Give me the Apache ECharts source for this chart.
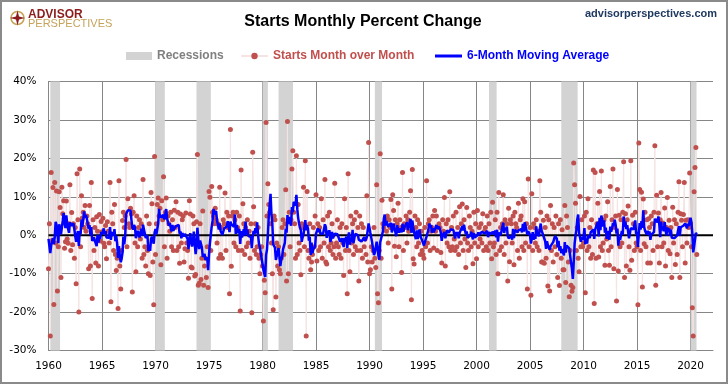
<!DOCTYPE html>
<html><head><meta charset="utf-8">
<script src="https://cdn.jsdelivr.net/npm/echarts@6/dist/echarts.min.js"></script>
<style>html,body{margin:0;padding:0;background:#fff}#c{width:728px;height:384px}</style>
</head><body><div id="c"></div>
<script>
// Monthly % change of housing starts (Jan 1960 .. Aug 2020)
const firstYear = 1960;
// Aug-Dec 1959, only used to start the 6-month average
const seed1959 = [2.0, -3.0, 4.0, -1.0, 1.0];
const starts1960s = [
  -8.7, 3.0, -26.2, 16.3, -1.4, 12.4, -18.0, 13.7, -2.0, 11.5, -14.5, -3.0,
  11.3, 7.2, -11.0, 12.5, 5.6, 9.0, -3.4, -1.7, 8.9, -1.0, -2.1, 3.0,
  13.1, -4.0, 5.9, -2.5, 3.0, -6.0, 2.0, -12.6, 16.0, 4.0, -20.0, 17.2,
  -3.0, 10.3, 4.5, 6.0, 2.0, 7.7, 1.0, 5.0, 3.0, -8.7, 7.7, -8.0,
  13.7, -16.5, 4.0, -4.0, 2.0, -7.2, 4.8, 1.0, -8.0, 5.4, -1.5, 3.6,
  0.9, 4.4, -2.1, -3.0, 2.5, -6.1, 3.5, 1.0, -2.0, 13.7, -17.3, 6.0,
  3.0, -4.0, 8.0, -5.0, -9.2, -6.0, -19.1, 14.2, -8.0, -14.0, -4.0, 3.8,
  6.0, 2.0, 5.0, 19.7, -3.0, 9.5, 3.0, 2.0, 7.0, 5.5, -14.8, 6.0,
  10.3, -2.0, -9.5, 5.0, -3.0, 2.0, 4.0, -1.0, 3.0, -6.0, 14.5, -5.0,
  -3.0, -8.0, 5.0, -4.0, -10.0, 3.0, -10.5, 11.1, 8.2, -7.0, -18.1, 20.5
];
const starts1970s = [
  -5.0, 3.0, 8.0, 9.7, 5.0, 7.0, -7.7, 9.0, 4.0, 15.2, -3.0, 6.0,
  9.7, -6.0, 5.0, 3.0, 1.0, 6.0, -3.0, 4.0, -4.0, 6.5, 2.0, 8.7,
  -4.0, 6.0, -3.0, -7.3, 5.5, -2.0, 4.0, 5.0, -7.0, -3.5, 5.8, -2.0,
  -4.0, -11.2, 9.0, 5.5, -8.3, -8.5, 5.0, 3.0, -10.6, -10.2, 3.5, 21.0,
  -13.0, -12.5, 3.0, -11.5, -6.0, 6.3, -13.0, -8.0, -6.0, -11.0, -3.0, -13.6,
  11.4, 9.9, -4.0, 12.7, 6.0, 5.0, 3.0, 7.0, 4.0, -2.0, 3.0, -6.0,
  12.5, -5.0, 2.0, -6.0, 4.0, 3.0, 11.0, -4.0, 6.0, 2.0, 5.0, -15.2,
  27.5, -8.1, 5.0, 6.0, -2.0, 4.0, -3.0, 6.0, 2.0, -4.0, 5.0, -19.7,
  17.0, -4.0, 8.2, 3.0, -5.0, 2.0, -3.0, 4.0, -2.0, 1.0, -6.0, 3.0,
  -20.2, 21.6, 7.4, -4.0, 3.0, -5.0, -3.0, 2.0, -6.0, -10.0, -5.0, -3.0
];
const starts1980s = [
  -8.0, -22.3, -11.7, -15.0, 29.3, 5.0, 13.4, 8.0, 6.0, 3.0, -2.0, -10.0,
  -19.4, 5.0, 4.0, -16.1, -2.0, -8.0, -3.0, -9.0, -10.0, -6.0, 2.0, 4.0,
  -5.0, 3.0, 11.8, -11.9, 29.6, -10.0, 6.0, -3.0, 4.0, 17.2, 22.0, 6.0,
  3.0, -6.0, 20.7, -5.0, 8.0, -2.0, -4.0, -10.3, 3.0, 2.0, 12.5, -3.0,
  19.4, -26.2, 11.4, -4.0, -6.0, 3.0, -9.0, -7.0, -5.0, 2.0, -3.0, 5.0,
  10.5, -6.7, 3.0, -4.0, 2.0, -3.0, 9.5, -6.0, 4.0, -2.0, 14.5, -7.0,
  -7.5, 5.0, -3.0, 6.0, -4.0, -2.0, 3.0, -5.0, -3.0, 13.5, -6.0, -2.0,
  4.0, -3.0, -5.0, 2.0, -6.0, 3.0, -2.0, -10.5, 9.5, -4.0, 2.0, -15.2,
  16.0, -4.0, -9.5, 5.0, -2.0, 3.0, -5.0, 4.0, -3.0, 6.0, -4.0, 2.0,
  -11.9, 5.0, -4.0, 3.0, -6.0, 2.0, -3.0, -1.0, -5.0, 10.3, -7.0, 24.1
];
const starts1990s = [
  -10.0, -9.0, -3.0, -7.0, -4.0, 2.0, -6.0, -8.4, 13.1, -15.2, -17.6, -4.0,
  21.2, -6.0, 9.1, 3.0, 2.0, 3.0, 4.0, 1.0, 5.0, -2.0, 4.0, 2.0,
  9.3, -14.0, 10.5, 6.4, -2.9, 4.0, -5.6, 3.0, 8.3, -3.0, 4.0, 2.0,
  -9.7, 16.3, -4.0, 3.0, 2.0, 5.0, -2.0, 4.0, 1.0, 6.0, 11.6, -16.8,
  17.1, -6.1, -7.5, 5.0, 2.0, -3.0, 4.0, -2.0, 3.0, -5.0, 1.0, -4.0,
  -5.0, -6.0, 2.0, -3.0, 14.2, -2.0, 3.0, 4.0, -4.0, 1.0, 2.0, 5.0,
  -3.3, 6.4, 1.0, 5.0, -4.0, 2.0, 3.0, 2.0, -4.5, -7.2, 4.0, 1.0,
  9.8, -8.0, 3.0, -2.0, 4.0, -3.0, 11.3, -4.0, 2.0, -3.0, 5.0, -1.0,
  -4.0, 6.0, -3.0, 2.0, -5.0, 7.4, -2.0, 3.0, 8.1, -4.0, 4.0, -1.0,
  -8.4, 7.2, -2.0, -4.0, 5.0, 2.0, -3.0, 1.0, -7.4, 6.0, -2.0, 3.0
];
const starts2000s = [
  -6.1, 6.4, -3.0, 2.0, -1.0, 3.0, -2.0, 5.6, -4.0, 1.0, 2.0, -3.0,
  5.0, -4.0, 3.0, -2.0, 6.0, -6.1, 8.6, -3.0, -2.0, 4.0, -5.0, 6.0,
  -10.0, 11.1, -4.0, 2.0, -3.0, 3.0, 10.5, -5.0, 4.0, -2.0, 3.0, -11.9,
  7.0, -6.9, 4.0, 3.0, -2.0, 5.0, -7.7, 6.0, 3.0, 2.0, -4.0, 8.3,
  -6.0, 4.0, 5.0, -3.0, 9.5, -4.0, 8.7, -2.0, 3.0, -14.0, 14.6, -3.0,
  2.0, -15.6, 10.8, -4.0, 3.0, 2.0, -2.0, 4.0, -3.0, 1.0, -4.0, 14.2,
  6.0, -7.0, -7.0, 3.9, -7.3, 2.0, -6.0, 5.0, -13.2, 4.0, -14.5, 7.7,
  -4.0, 3.0, -7.0, 2.0, -3.0, 5.0, -5.0, -11.0, 3.0, -13.1, 4.0, -6.0,
  1.4, -9.0, -9.0, 7.7, -12.3, 5.0, 2.0, -7.0, -16.0, -4.0, -13.0, -14.6,
  -13.6, 18.8, 13.1, 8.3, -4.0, 2.0, -6.0, -9.5, 10.1, -3.0, 4.0, -3.0
];
const starts2010s = [
  -2.0, 5.0, -15.0, 6.0, -4.0, 9.5, -3.0, 2.0, -6.0, 4.0, -5.0, 17.0,
  -17.8, 16.3, -6.0, 3.0, 8.3, -5.7, 11.4, -3.0, 16.7, -4.0, -2.0, 4.0,
  -7.8, 5.0, -1.0, 8.7, -4.0, -7.8, 12.7, -3.0, 4.0, 17.2, -8.7, 2.0,
  5.0, -17.1, 11.9, -9.3, 5.2, -3.0, 4.0, -2.0, 6.0, 19.1, -11.0, 5.6,
  -8.0, 4.0, 7.6, -3.0, -9.1, 19.4, -6.5, 5.2, 3.0, -4.0, 6.0, -2.0,
  -3.0, -18.1, 24.0, 11.9, -4.0, 11.2, -13.5, 9.4, -2.2, 6.0, -3.0, 4.0,
  -7.2, 4.3, 2.0, -7.2, 5.0, 3.0, -4.0, 6.0, 23.3, -13.0, 10.4, -3.0,
  5.8, -7.2, 4.0, 11.1, -3.0, 3.2, -2.0, 7.1, -8.0, 2.0, 9.8, -4.0,
  3.9, -4.8, 2.0, -11.0, 7.3, -2.0, 4.0, -7.6, 3.0, -5.0, 6.0, 13.9,
  -11.0, 5.6, 3.9, -3.0, 5.4, 13.7, -7.2, 3.9, -2.0, 4.0, 2.0, 16.2
];
const starts2020s = [3.0, -3.0, -18.9, -26.2, 11.3, 17.6, 22.8, -5.0];

// NBER recessions (decimal years as drawn)
const recStart = [1960.17, 1969.96, 1973.83, 1980.0, 1981.5, 1990.5, 2001.17, 2007.92, 2020.0];
const recEnd   = [1961.08, 1970.87, 1975.17, 1980.5, 1982.85, 1991.17, 2001.88, 2009.45, 2020.56];

const xTickLabels = [1960,1965,1970,1975,1980,1985,1990,1995,2000,2005,2010,2015,2020];
const yMin = -30, yMax = 40, yStep = 10;
const xMin = 1960, xMax = 2022.1, xStep = 5;

const values = [].concat(starts1960s, starts1970s, starts1980s, starts1990s, starts2000s, starts2010s, starts2020s);
const xOf = i => firstYear + i / 12;
const startsData = values.map((v, i) => [xOf(i), v]);
const full = seed1959.concat(values);
const maData = values.map((v, i) => {
  let s = 0; for (let k = 0; k < 6; k++) s += full[i + k];
  return [xOf(i), +(s / 6).toFixed(2)];
});

const AX = "'DejaVu Sans', sans-serif";
const LS = "'Liberation Sans', Arial, sans-serif";
const chart = echarts.init(document.getElementById('c'), null, {renderer: 'canvas'});
const legendBase = {top: 50, padding: 0, itemHeight: 8, selectedMode: false,
  textStyle: {fontWeight: 'bold', fontSize: 12, fontFamily: LS}};
chart.setOption({
  animation: false,
  backgroundColor: '#fff',
  grid: {left: 48.5, right: 15, top: 81.5, bottom: 33.5},
  xAxis: {
    type: 'value', min: xMin, max: xMax, interval: xStep,
    axisLabel: {formatter: v => xTickLabels.indexOf(Math.round(v)) >= 0 && Math.abs(v - Math.round(v)) < 1e-6 ? String(Math.round(v)) : '',
      color: '#000', fontFamily: AX, fontSize: 10.5, margin: 10},
    splitLine: {show: true, showMaxLine: false, lineStyle: {color: '#868686', width: 1}},
    axisLine: {show: true, onZero: false, lineStyle: {color: '#868686', width: 1}},
    axisTick: {show: false}
  },
  yAxis: {
    type: 'value', min: yMin, max: yMax, interval: yStep,
    axisLabel: {formatter: '{value}%', color: '#000', fontFamily: AX, fontSize: 10.5, margin: 12},
    splitLine: {show: true, lineStyle: {color: '#868686', width: 1}},
    axisLine: {show: true, lineStyle: {color: '#868686', width: 1}},
    axisTick: {show: false}
  },
  legend: [
    Object.assign({}, legendBase, {left: 126, itemWidth: 26,
      data: [{name: 'Recessions', icon: 'rect', itemStyle: {color: '#d3d3d3'}}],
      textStyle: Object.assign({}, legendBase.textStyle, {color: '#808080'})}),
    Object.assign({}, legendBase, {left: 240, itemWidth: 27,
      data: ['Starts Month over Month'],
      textStyle: Object.assign({}, legendBase.textStyle, {color: '#C0504D'})}),
    Object.assign({}, legendBase, {left: 435, itemWidth: 27, itemHeight: 3,
      data: [{name: '6-Month Moving Average', icon: 'rect', itemStyle: {color: '#0000FF'}}],
      textStyle: Object.assign({}, legendBase.textStyle, {color: '#0000FF'})})
  ],
  series: [
    {name: 'Recessions', type: 'line', data: [], itemStyle: {color: '#d3d3d3'},
      markArea: {silent: true, itemStyle: {color: '#d3d3d3'},
        data: recStart.map((s, i) => [{xAxis: s}, {xAxis: recEnd[i]}])}},
    {name: 'Starts Month over Month', type: 'line', data: startsData, symbol: 'circle', symbolSize: 5,
      showAllSymbol: true, lineStyle: {color: '#f6e3e3', width: 1}, itemStyle: {color: '#C0504D'}, z: 3},
    {name: 'zero', type: 'line', data: [[xMin, 0], [xMax, 0]], symbol: 'none', silent: true,
      lineStyle: {color: '#000', width: 2}, z: 4},
    {name: '6-Month Moving Average', type: 'line', data: maData, symbol: 'none',
      lineStyle: {color: '#0000FF', width: 2.5}, itemStyle: {color: '#0000FF'}, z: 5}
  ],
  graphic: [
    {type: 'text', x: 363, y: 22, style: {text: 'Starts Monthly Percent Change', font: 'bold 16px ' + LS,
      fill: '#000', textAlign: 'center', textVerticalAlign: 'middle'}},
    {type: 'text', x: 717, y: 14, style: {text: 'advisorperspectives.com', font: 'bold 11px ' + LS,
      fill: '#1f3a60', textAlign: 'right', textVerticalAlign: 'middle'}},
    {type: 'circle', shape: {cx: 17.5, cy: 18, r: 6.5}, style: {fill: 'none', stroke: '#c4a35a', lineWidth: 1.5}},
    {type: 'polygon', shape: {points: [[17.5,10.5],[19,16.5],[25,18],[19,19.5],[17.5,25.5],[16,19.5],[10,18],[16,16.5]]},
      style: {fill: '#8c1c1c'}},
    {type: 'text', x: 28, y: 14.5, style: {text: 'ADVISOR', font: 'bold 12px ' + LS, fill: '#8c1c1c',
      textAlign: 'left', textVerticalAlign: 'middle'}},
    {type: 'text', x: 28, y: 23.5, style: {text: 'PERSPECTIVES', font: '11px ' + LS, fill: '#c4a35a',
      textAlign: 'left', textVerticalAlign: 'middle'}},
    {type: 'rect', shape: {x: 1, y: 1, width: 726, height: 382}, silent: true, z: 100,
      style: {fill: 'none', stroke: '#8a8a8a', lineWidth: 2}}
  ]
});
</script>
</body></html>
